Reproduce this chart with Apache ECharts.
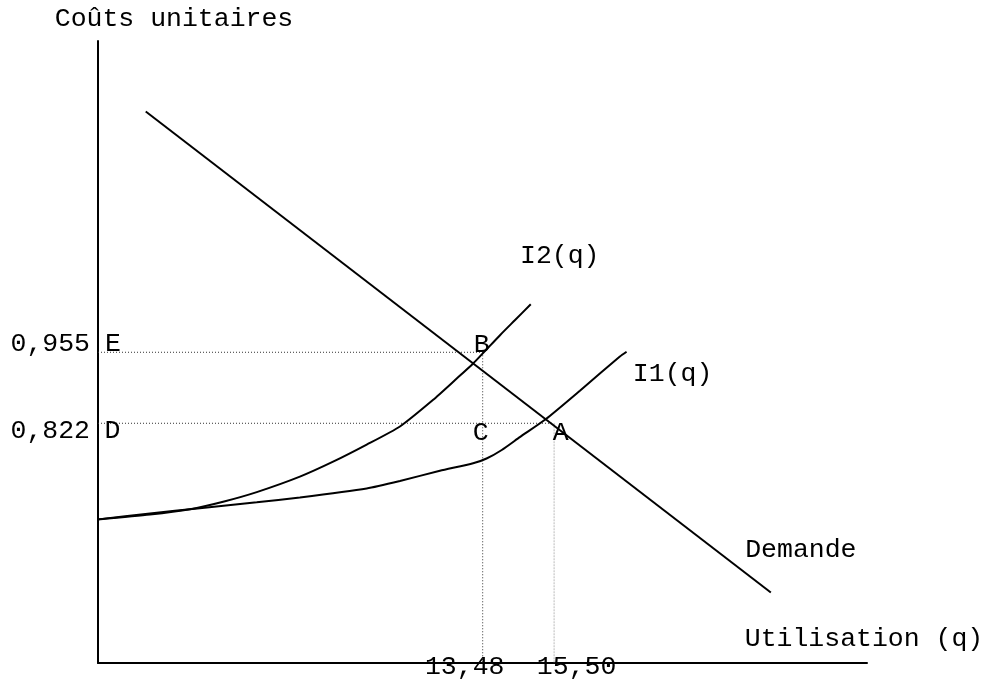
<!DOCTYPE html>
<html><head><meta charset="utf-8">
<script src="https://cdn.jsdelivr.net/npm/echarts@6/dist/echarts.min.js"></script>
<style>html,body{margin:0;padding:0;background:#fff}#c{width:987px;height:679px}</style>
</head><body><div id="c"></div>
<script>
// axis ranges (data units)
const xRange = [2.6, 24.35];
const yRange = [0.373, 1.538];
// tick values and labels
const xTicks = [13.48, 15.50];
const xTickLabels = ['13,48', '15,50'];
const yTicks = [0.822, 0.955];
const yTickLabels = ['0,822', '0,955'];
// curves
const demande = [[3.95, 1.406], [21.63, 0.505]];
const i1 = [[2.6,0.642],[4.07,0.653],[5.48,0.663],[7.09,0.674],[8.31,0.683],[10.20,0.700],[11.14,0.714],[12.27,0.733],[13.21,0.747],[13.59,0.756],[14.02,0.772],[14.53,0.796],[15.27,0.830],[16.23,0.883],[17.36,0.947],[17.55,0.956]];
const i2 = [[2.6,0.642],[4.07,0.651],[5.20,0.661],[6.14,0.675],[7.09,0.693],[8.31,0.722],[9.25,0.750],[10.20,0.782],[11.14,0.816],[12.08,0.866],[12.70,0.903],[13.21,0.934],[13.97,0.987],[14.39,1.015],[14.84,1.045]];
// named points
const pointNames = ['A', 'B', 'C', 'D', 'E'];
const pointValues = [[15.50, 0.822], [13.48, 0.955], [13.48, 0.822], [2.6, 0.822], [2.6, 0.955]];
const curveNames = ['I1(q)', 'I2(q)', 'Demande'];

const FONT = "'Liberation Mono', 'Courier New', monospace";
const FS = 26.5;

const A = pointValues[0], B = pointValues[1], C = pointValues[2], D = pointValues[3], E = pointValues[4];
const guideDark = [[E, B], [B, [B[0], yRange[0]]], [D, A]];
const guideLight = [[A, [A[0], yRange[0]]]];

const ptOffsets = {A:[6.5,10], B:[-1,-7], C:[-2,10], D:[14.5,8], E:[15,-8]};
const curveOffsets = {'I1(q)':[46,22], 'I2(q)':[29,-48], 'Demande':[30,-43]};
const curveEnds = [i1[i1.length-1], i2[i2.length-1], demande[demande.length-1]];

const series = [];
guideDark.forEach(seg => series.push({
  type:'line', data: seg, symbol:'none', silent:true, z:1,
  lineStyle:{color:'#333', width:1, type:[1,2]}
}));
guideLight.forEach(seg => series.push({
  type:'line', data: seg, symbol:'none', silent:true, z:1,
  lineStyle:{color:'#bbb', width:1, type:[2,1]}
}));
series.push({type:'line', name:'Demande', data: demande, symbol:'none', lineStyle:{color:'#000', width:2}, z:3});
series.push({type:'line', name:'I1(q)', data: i1, symbol:'none', smooth:0.2, lineStyle:{color:'#000', width:2}, z:3});
series.push({type:'line', name:'I2(q)', data: i2, symbol:'none', smooth:0.2, lineStyle:{color:'#000', width:2}, z:3});
const lbl = {show:true, position:'inside', color:'#000', opacity:1, textBorderWidth:0, fontFamily:FONT, fontSize:FS};
series.push({
  type:'scatter', symbolSize:0, silent:true, z:5,
  itemStyle:{color:'#000', opacity:1},
  data: pointNames.map((n,i) => ({value: pointValues[i], label:Object.assign({}, lbl, {formatter:n, offset: ptOffsets[n]})}))
    .concat(curveNames.map((n,i) => ({value: curveEnds[i], label:Object.assign({}, lbl, {formatter:n, offset: curveOffsets[n]})}))),
  label: lbl
});

const chart = echarts.init(document.getElementById('c'), null, {renderer:'canvas'});
chart.setOption({
  animation:false,
  backgroundColor:'#fff',
  grid:{left:98, right:120, top:41, bottom:16, containLabel:false, outerBoundsMode:'none'},
  xAxis:{
    type:'value', min:xRange[0], max:xRange[1],
    splitLine:{show:false}, axisTick:{show:false},
    axisLine:{show:true, lineStyle:{color:'#000', width:2}},
    axisLabel:{
      customValues: xTicks, margin:-10, color:'#000', fontFamily:FONT, fontSize:FS,
      formatter:(v) => { const i = xTicks.indexOf(v); return '{t' + i + '|' + xTickLabels[i] + '}'; },
      rich:{ t0:{fontFamily:FONT, fontSize:FS, color:'#000', padding:[0,36,0,0]}, t1:{fontFamily:FONT, fontSize:FS, color:'#000', padding:[0,0,0,45]} }
    },
    name:'Utilisation (q)', nameLocation:'end', nameGap:-3, nameMoveOverlap:false,
    nameTextStyle:{color:'#000', fontFamily:FONT, fontSize:FS, align:'center', verticalAlign:'bottom', lineHeight:49}
  },
  yAxis:{
    type:'value', min:yRange[0], max:yRange[1],
    splitLine:{show:false}, axisTick:{show:false},
    axisLine:{show:true, lineStyle:{color:'#000', width:2}},
    axisLabel:{
      customValues: yTicks, margin:8, color:'#000', fontFamily:FONT, fontSize:FS,
      formatter:(v) => { const i = yTicks.indexOf(v); return '{t' + i + '|' + yTickLabels[i] + '}'; },
      rich:{ t0:{fontFamily:FONT, fontSize:FS, color:'#000', padding:[16,0,0,0]}, t1:{fontFamily:FONT, fontSize:FS, color:'#000', padding:[0,0,16,0]} }
    },
    name:'Coûts unitaires', nameLocation:'end', nameGap:22, nameMoveOverlap:false,
    nameTextStyle:{color:'#000', fontFamily:FONT, fontSize:FS, align:'center', verticalAlign:'middle', padding:[0,0,0,152]}
  },
  series: series
});
</script>
</body></html>
